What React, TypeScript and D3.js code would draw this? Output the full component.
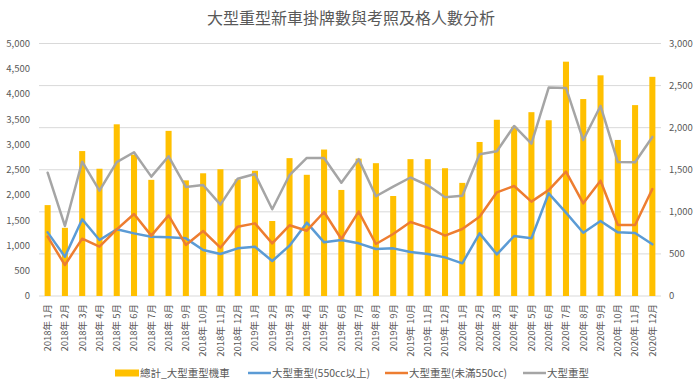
import React from 'react';
import * as d3 from 'd3';

const width = 700;
const height = 388;
const margin = { top: 43.5, right: 39, bottom: 92, left: 39 };

const months = [
  '2018年 1月', '2018年 2月', '2018年 3月', '2018年 4月', '2018年 5月', '2018年 6月',
  '2018年 7月', '2018年 8月', '2018年 9月', '2018年 10月', '2018年 11月', '2018年 12月',
  '2019年 1月', '2019年 2月', '2019年 3月', '2019年 4月', '2019年 5月', '2019年 6月',
  '2019年 7月', '2019年 8月', '2019年 9月', '2019年 10月', '2019年 11月', '2019年 12月',
  '2020年 1月', '2020年 2月', '2020年 3月', '2020年 4月', '2020年 5月', '2020年 6月',
  '2020年 7月', '2020年 8月', '2020年 9月', '2020年 10月', '2020年 11月', '2020年 12月'
];

// 總計_大型重型機車 (left axis)
const totalBikes = [
  1800, 1350, 2870, 2520, 3400, 2800, 2300, 3270, 2290, 2430, 2510, 2310,
  2480, 1485, 2730, 2400, 2900, 2100, 2720, 2630, 1980, 2710, 2710, 2530,
  2240, 3050, 3490, 3350, 3640, 3480, 4640, 3900, 4370, 3090, 3780, 4340
];

// 大型重型(550cc以上) (right axis)
const over550 = [
  756, 467, 911, 665, 792, 744, 705, 697, 685, 546, 499, 566,
  586, 416, 598, 871, 638, 665, 626, 558, 566, 523, 499, 459,
  388, 744, 495, 713, 685, 1220, 990, 752, 891, 756, 748, 614
];

// 大型重型(未滿550cc) (right axis)
const under550 = [
  705, 368, 681, 586, 792, 974, 717, 958, 606, 772, 574, 824,
  863, 626, 840, 776, 998, 677, 1002, 618, 737, 879, 812, 717,
  796, 942, 1232, 1307, 1121, 1259, 1477, 1101, 1370, 843, 843, 1271
];

// 大型重型 (right axis)
const heavyTotal = [
  1465, 832, 1596, 1251, 1590, 1708, 1418, 1660, 1295, 1319, 1085, 1394,
  1449, 1030, 1437, 1640, 1640, 1346, 1626, 1185, 1300, 1408, 1315, 1174,
  1190, 1685, 1720, 2020, 1810, 2477, 2472, 1853, 2258, 1592, 1590, 1890
];

const leftTicks = [0, 500, 1000, 1500, 2000, 2500, 3000, 3500, 4000, 4500, 5000];
const rightTicks = [0, 500, 1000, 1500, 2000, 2500, 3000];

const barColor = '#FFC000';
const lineSeries = [
  { name: '大型重型(550cc以上)', values: over550, color: '#5B9BD5' },
  { name: '大型重型(未滿550cc)', values: under550, color: '#ED7D31' },
  { name: '大型重型', values: heavyTotal, color: '#A5A5A5' }
];

const font = '"Noto Sans CJK TC", "Noto Sans", sans-serif';
const textColor = '#595959';

export default function App() {
  const x = d3.scaleBand<string>()
    .domain(months)
    .range([margin.left, width - margin.right])
    .paddingInner(0.65)
    .paddingOuter(0.325);

  const plotBottom = height - margin.bottom - 0;
  const yLeft = d3.scaleLinear().domain([0, 5000]).range([296, margin.top]);
  const yRight = d3.scaleLinear().domain([0, 3000]).range([296, margin.top]);
  const fmt = d3.format(',');
  const cx = (m: string) => (x(m) ?? 0) + x.bandwidth() / 2;

  const line = (vals: number[]) =>
    d3.line<number>()
      .x((_, i) => cx(months[i]))
      .y(d => yRight(d))(vals) ?? '';

  const legendY = 373;

  return (
    <svg width={width} height={height} style={{ position: 'absolute', left: 0, top: 0, fontFamily: font }}>
      <rect width={width} height={height} fill="#fff" />
      <text x={351} y={24} textAnchor="middle" fontSize={16} fill={textColor}>
        大型重型新車掛牌數與考照及格人數分析
      </text>

      {/* gridlines follow the right axis */}
      {rightTicks.map(t => (
        <line key={t} x1={margin.left} x2={width - margin.right} y1={yRight(t)} y2={yRight(t)}
          stroke="#D9D9D9" strokeWidth={1} />
      ))}

      {leftTicks.map(t => (
        <text key={t} x={30} y={yLeft(t)} dy="0.35em" textAnchor="end" fontSize={9.5} fill={textColor}>
          {fmt(t)}
        </text>
      ))}
      {rightTicks.map(t => (
        <text key={t} x={669} y={yRight(t)} dy="0.35em" textAnchor="start" fontSize={9.5} fill={textColor}>
          {fmt(t)}
        </text>
      ))}

      {/* bars */}
      {months.map((m, i) => (
        <rect key={m} x={x(m)} y={yLeft(totalBikes[i])} width={x.bandwidth()}
          height={yLeft(0) - yLeft(totalBikes[i])} fill={barColor} />
      ))}

      {/* lines */}
      {lineSeries.map(s => (
        <path key={s.name} d={line(s.values)} fill="none" stroke={s.color} strokeWidth={2.5}
          strokeLinejoin="round" strokeLinecap="round" />
      ))}

      {/* x labels */}
      {months.map(m => (
        <text key={m} transform={`translate(${cx(m)},304) rotate(-90)`} textAnchor="end" dy="0.35em"
          fontSize={9.5} fill={textColor}>
          {m}
        </text>
      ))}

      {/* legend */}
      <g fontSize={10.5} fill={textColor}>
        <rect x={115} y={legendY - 3.5} width={24} height={7} fill={barColor} />
        <text x={140} y={legendY} dy="0.35em">總計_大型重型機車</text>
        {lineSeries.map((s, i) => {
          const lx = [248, 385, 523][i];
          return (
            <g key={s.name}>
              <line x1={lx} x2={lx + 23} y1={legendY} y2={legendY} stroke={s.color} strokeWidth={2.5} />
              <text x={lx + 24} y={legendY} dy="0.35em">{s.name}</text>
            </g>
          );
        })}
      </g>
      {plotBottom ? null : null}
    </svg>
  );
}
